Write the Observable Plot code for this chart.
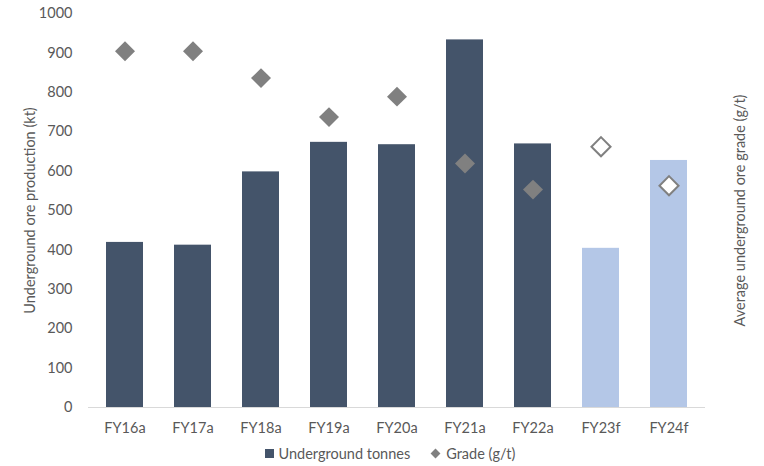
<!DOCTYPE html>
<html>
<head>
<meta charset="utf-8">
<script src="https://cdn.jsdelivr.net/npm/d3@7"></script>
<script src="https://cdn.jsdelivr.net/npm/@observablehq/plot@0.6"></script>
<style>
  html, body { margin: 0; padding: 0; background: #fff; }
  body { width: 764px; height: 466px; overflow: hidden; font-family: Lato, "Open Sans", sans-serif; color: #595959; }
  #legend { display: flex; justify-content: center; align-items: center; gap: 22px; font-size: 14.5px; height: 26px; margin-left: 16px; }
  .item { display: flex; align-items: center; gap: 5px; }
  .sq { width: 9px; height: 9px; background: #44546A; display: inline-block; }
  .dm { width: 7px; height: 7px; background: #808080; display: inline-block; transform: rotate(45deg); margin-right: 2px; }
</style>
</head>
<body>
<div id="chart"></div>
<div id="legend">
  <span class="item"><span class="sq"></span>Underground tonnes</span>
  <span class="item"><span class="dm"></span>Grade (g/t)</span>
</div>
<script>
const categories = ["FY16a","FY17a","FY18a","FY19a","FY20a","FY21a","FY22a","FY23f","FY24f"];
const tonnes = [419, 412, 598, 673, 667, 933, 669, 404, 627];
// Grade in g/t, read against a hidden secondary axis of 0–10 g/t
const grade = [9.04, 9.04, 8.36, 7.37, 7.89, 6.19, 5.53, 6.62, 5.63];
const forecast = [false, false, false, false, false, false, false, true, true];
const yTicks = [0,100,200,300,400,500,600,700,800,900,1000];
const gradeToLeft = 100; // secondary axis 0–10 g/t mapped onto 0–1000 kt

const data = categories.map((c, i) => ({cat: c, tonnes: tonnes[i], grade: grade[i], forecast: forecast[i]}));

const chart = Plot.plot({
  width: 764,
  height: 440,
  marginTop: 13,
  marginBottom: 33,
  marginLeft: 88,
  marginRight: 59,
  style: {fontFamily: "Lato, 'Open Sans', sans-serif", fontSize: "14.5px", color: "#595959", background: "#fff"},
  x: {domain: categories, paddingInner: 0.46, paddingOuter: 0.23, label: null},
  y: {domain: [0, 1000], ticks: yTicks, label: null},
  marks: [
    Plot.barY(data, {x: "cat", y: "tonnes", fill: d => d.forecast ? "#B4C7E7" : "#44546A"}),
    Plot.ruleY([0], {stroke: "#d9d9d9", strokeWidth: 1}),
    Plot.dot(data.filter(d => !d.forecast), {x: "cat", y: d => d.grade * gradeToLeft, symbol: "diamond2", r: 9, fill: "#808080", stroke: "none"}),
    Plot.dot(data.filter(d => d.forecast), {x: "cat", y: d => d.grade * gradeToLeft, symbol: "diamond2", r: 8.6, fill: "#fff", stroke: "#808080", strokeWidth: 2}),
    Plot.axisY({ticks: yTicks, tickFormat: d => String(d), tickSize: 0, tickPadding: 16, label: null, fill: "#595959"}),
    Plot.axisX({tickSize: 0, tickPadding: 15, label: null, fill: "#595959"}),
    Plot.text(["Underground ore production (kt)"], {frameAnchor: "left", dx: -58, rotate: -90, fill: "#595959", fontSize: 14.5, textAnchor: "middle"}),
    Plot.text(["Average underground ore grade (g/t)"], {frameAnchor: "right", dx: 35, rotate: -90, fill: "#595959", fontSize: 14.5, textAnchor: "middle"})
  ]
});
document.getElementById("chart").appendChild(chart);
</script>
</body>
</html>
